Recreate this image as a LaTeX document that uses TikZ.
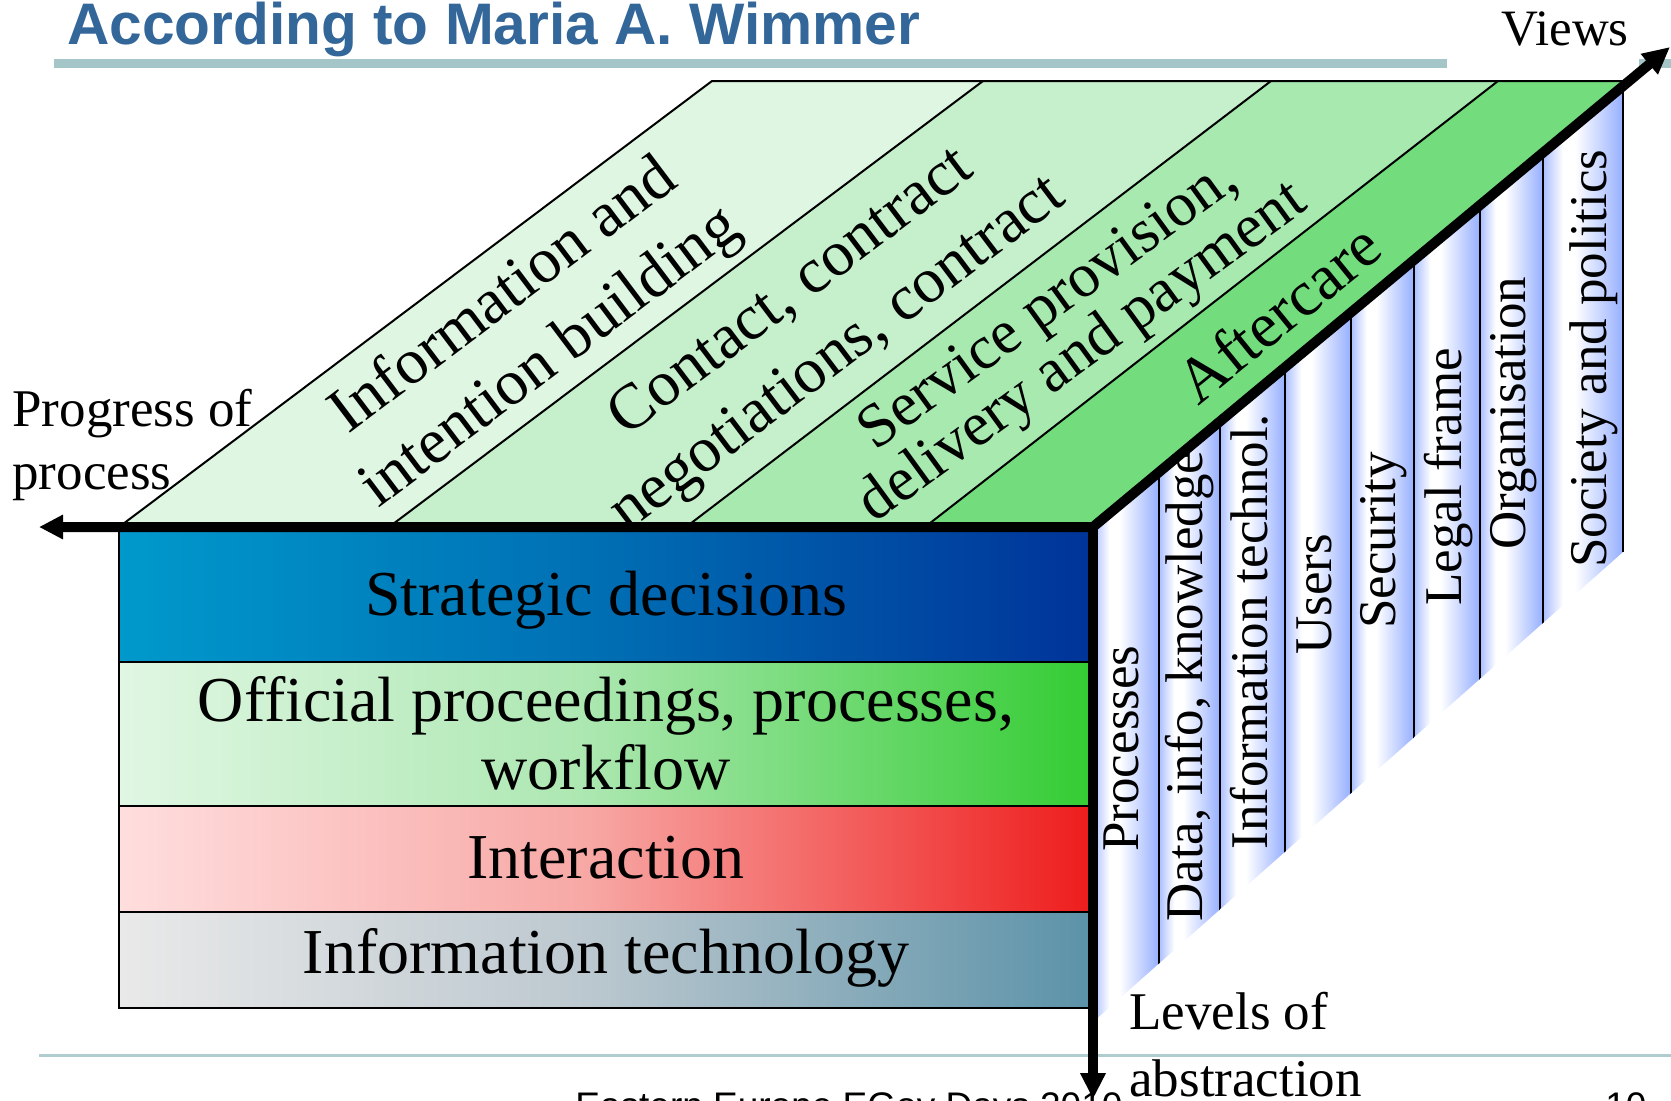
\documentclass[tikz,border=0pt]{standalone}
\usepackage{fontspec}
\setmainfont{Liberation Serif}
\newfontfamily\arialfont{Liberation Sans}
\usetikzlibrary{arrows.meta}
\definecolor{titleblue}{RGB}{51,102,153}
\definecolor{barcol}{RGB}{165,198,200}
\definecolor{footcol}{RGB}{175,205,207}
\definecolor{topA}{RGB}{223,246,226}
\definecolor{topB}{RGB}{198,240,204}
\definecolor{topC}{RGB}{168,233,176}
\definecolor{topD}{RGB}{115,221,126}
\definecolor{stratL}{RGB}{0,153,204}
\definecolor{stratM}{RGB}{0,112,180}
\definecolor{stratR}{RGB}{0,51,153}
\definecolor{offL}{RGB}{224,247,227}
\definecolor{offM}{RGB}{172,231,177}
\definecolor{offR}{RGB}{51,204,51}
\definecolor{intL}{RGB}{255,222,222}
\definecolor{intM}{RGB}{247,168,165}
\definecolor{intR}{RGB}{238,28,28}
\definecolor{itL}{RGB}{233,233,233}
\definecolor{itM}{RGB}{188,200,207}
\definecolor{itR}{RGB}{91,146,168}
\definecolor{sbA}{RGB}{170,190,255}
\definecolor{sbB}{RGB}{150,175,255}
% TikZ maps a path's bounding box onto the 25bp..75bp part of a shading
\pgfdeclarehorizontalshading{stripeshade}{100bp}{color(0bp)=(sbA); color(25bp)=(sbA); color(37.5bp)=(white); color(45bp)=(white); color(75bp)=(sbB); color(100bp)=(sbB)}
\pgfdeclarehorizontalshading{stratshade}{100bp}{color(0bp)=(stratL); color(25bp)=(stratL); color(49bp)=(stratM); color(75bp)=(stratR); color(100bp)=(stratR)}
\pgfdeclarehorizontalshading{offshade}{100bp}{color(0bp)=(offL); color(25bp)=(offL); color(49bp)=(offM); color(75bp)=(offR); color(100bp)=(offR)}
\pgfdeclarehorizontalshading{intshade}{100bp}{color(0bp)=(intL); color(25bp)=(intL); color(49bp)=(intM); color(75bp)=(intR); color(100bp)=(intR)}
\pgfdeclarehorizontalshading{itshade}{100bp}{color(0bp)=(itL); color(25bp)=(itL); color(49bp)=(itM); color(75bp)=(itR); color(100bp)=(itR)}
\begin{document}
\begin{tikzpicture}[x=0.5pt,y=-0.5pt,
  edgeline/.style={draw=black,line width=1pt},
  toptext/.style={font=\fontsize{32}{38.5}\selectfont,align=center,inner sep=0pt},
  fronttext/.style={font=\fontsize{32}{34}\selectfont,align=center,inner sep=0pt},
  sidetext/.style={font=\fontsize{26.5}{30}\selectfont,rotate=90,anchor=base west,inner sep=0pt},
  labeltext/.style={font=\fontsize{26.5}{31.5}\selectfont,align=left,inner sep=0pt},
  axisline/.style={line width=5pt,line join=miter}]
\useasboundingbox (0,0) rectangle (1671,1100);
\clip (0,0) rectangle (1671,1100);

% title and rules
\fill[barcol] (54,59) rectangle (1447,68);
\fill[barcol] (1639,59) rectangle (1671,68);
\node[font=\arialfont\bfseries\fontsize{29.3}{34}\selectfont,text=titleblue,anchor=base west,inner sep=0pt] (title) at (67,44) {According to Maria A. Wimmer};
\fill[footcol] (39,1054) rectangle (1671,1057);
\node[font=\arialfont\fontsize{18.5}{22}\selectfont,anchor=base west,inner sep=0pt] (foot) at (575,1118) {Eastern Europe EGov Days 2010};
\node[font=\arialfont\fontsize{18.5}{22}\selectfont,anchor=base west,inner sep=0pt] (page) at (1605,1118) {10};

% key points
\coordinate (F) at (1093,527);
\coordinate (Ltip) at (39,527);
\coordinate (Vtip) at (1670,47);
\coordinate (Dstart) at (1093,522);
\coordinate (Dtip) at (1093,1099);

% top face
\fill[topA] (119,527) -- (712,81) -- (983,81) -- (389,527) -- cycle;
\fill[topB] (389,527) -- (983,81) -- (1271,81) -- (686,527) -- cycle;
\fill[topC] (686,527) -- (1271,81) -- (1498,81) -- (925,527) -- cycle;
\fill[topD] (925,527) -- (1498,81) -- (1632,81) -- (F) -- cycle;
\draw[edgeline] (119,527) -- (712,81) -- (1632,81);
\draw[edgeline] (983,81) -- (389,527);
\draw[edgeline] (1271,81) -- (686,527);
\draw[edgeline] (1498,81) -- (925,527);

\node[toptext,rotate=37] (t1) at (528,328) {Information and\\intention building};
\node[toptext,rotate=37] (t2) at (816,325) {Contact, contract\\negotiations, contract};
\node[toptext,font=\fontsize{31}{28}\selectfont,rotate=36] (t3) at (1067,331) {Service provision,\\delivery and payment};
\node[toptext,rotate=39,anchor=base] (t4) at (1292,330) {Aftercare};

% side face
\begin{scope}
\clip (F) -- (1623,87) -- (1623,552) -- (1093,1022) -- cycle;
\foreach \a/\b in {1093/1159,1159/1220,1220/1285,1285/1351,1351/1414,1414/1480,1480/1543,1543/1623}
  \shade[shading=stripeshade] (\a,60) rectangle (\b,1040);
\foreach \a in {1159,1220,1285,1351,1414,1480,1543}
  \draw[edgeline] (\a,60) -- (\a,1040);
\end{scope}
\draw[edgeline] (1623,87) -- (1623,552);

\node[sidetext] (v1) at (1138,852) {Processes};
\node[sidetext] (v2) at (1202,922) {Data, info, knowledge};
\node[sidetext] (v3) at (1267,850) {Information technol.};
\node[sidetext] (v4) at (1331,655) {Users};
\node[sidetext] (v5) at (1395,629) {Security};
\node[sidetext] (v6) at (1461,606) {Legal frame};
\node[sidetext] (v7) at (1525,550) {Organisation};
\node[sidetext] (v8) at (1606,568) {Society and politics};

% front face
\shade[shading=stratshade] (119,527) rectangle (1093,662);
\shade[shading=offshade] (119,662) rectangle (1093,806);
\shade[shading=intshade] (119,806) rectangle (1093,912);
\shade[shading=itshade] (119,912) rectangle (1093,1008);
\draw[edgeline] (119,527) rectangle (1093,1008);
\draw[edgeline] (119,662) -- (1093,662);
\draw[edgeline] (119,806) -- (1093,806);
\draw[edgeline] (119,912) -- (1093,912);

\node[fronttext,anchor=base] (s1) at (606,615) {Strategic decisions};
\node[fronttext] (s2) at (606,733) {Official proceedings, processes,\\workflow};
\node[fronttext,anchor=base] (s3) at (606,878) {Interaction};
\node[fronttext,anchor=base] (s4) at (606,973) {Information technology};

% axes
\draw[axisline,{Triangle[length=12pt,width=11.5pt]}-{Triangle[length=13.5pt,width=12.5pt]}] (Ltip) -- (F) -- (Vtip);
\draw[axisline,-{Triangle[length=13pt,width=12pt]}] (Dstart) -- (Dtip);

% axis labels
\node[labeltext,anchor=north west] (prog) at (12,389) {Progress of\\process};
\node[font=\fontsize{25.5}{30}\selectfont,anchor=base west,inner sep=0pt] (views) at (1501,45) {Views};
\node[labeltext,font=\fontsize{26.5}{33.5}\selectfont,anchor=north west] (levels) at (1129,992) {Levels of\\abstraction};
\end{tikzpicture}
\end{document}
